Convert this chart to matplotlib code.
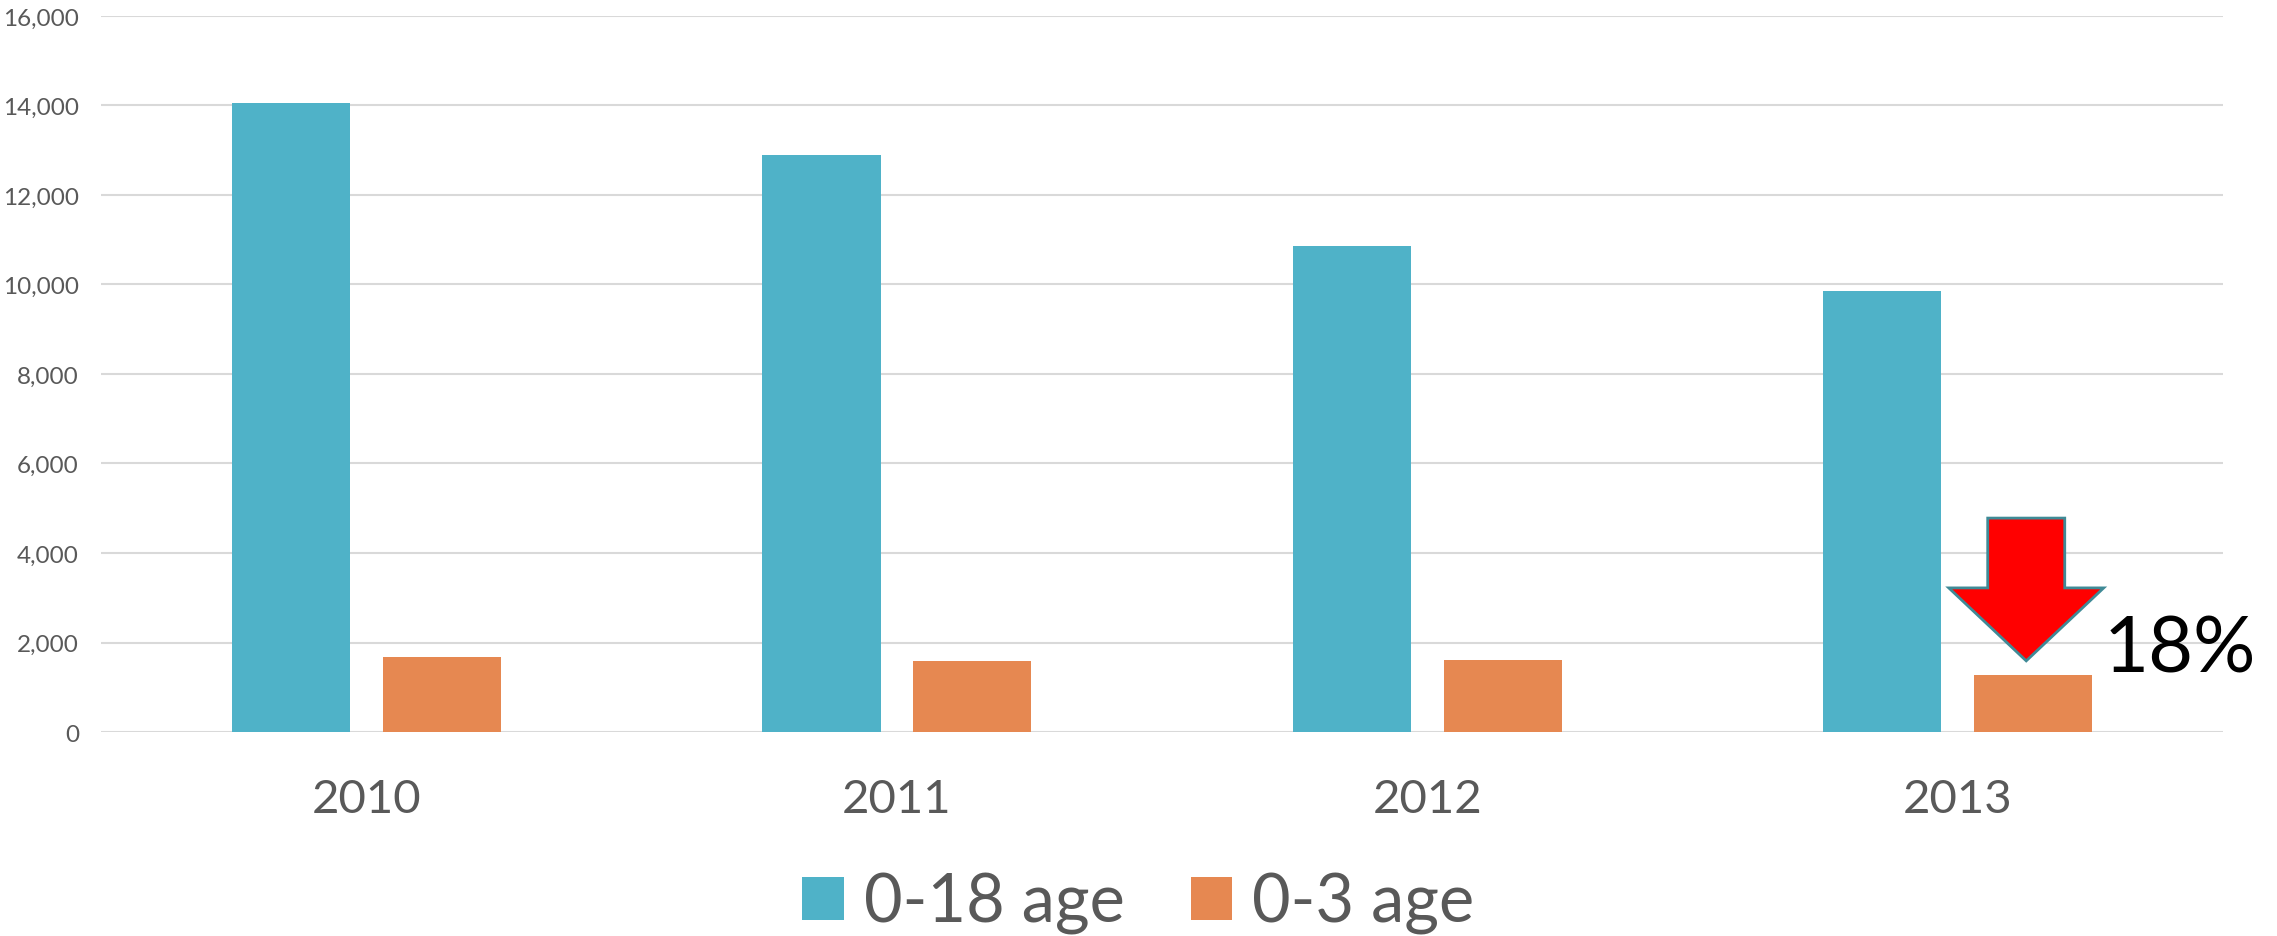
import matplotlib
matplotlib.use("Agg")
import matplotlib.pyplot as plt
from matplotlib.patches import Polygon, Patch
import numpy as np

plt.rcParams['font.family'] = ['Lato', 'DejaVu Sans']

years = ["2010", "2011", "2012", "2013"]
age_0_18 = [14050, 12900, 10870, 9860]
age_0_3 = [1680, 1590, 1620, 1280]
series_labels = ["0-18 age", "0-3 age"]
yticks = [0, 2000, 4000, 6000, 8000, 10000, 12000, 14000, 16000]
drop_label = "18%"

blue = "#4FB2C8"
orange = "#E68851"
grey = "#595959"

fig = plt.figure(figsize=(22.77, 9.37), dpi=100)
ax = fig.add_axes([0.0444, 0.2177, 0.9319, 0.7642])

x = np.arange(len(years))
w = 0.2225
off = 0.142
ax.bar(x - off, age_0_18, width=w, color=blue, zorder=3, label=series_labels[0])
ax.bar(x + off, age_0_3, width=w, color=orange, zorder=3, label=series_labels[1])

ax.set_xlim(-0.5, len(years) - 0.5)
ax.set_ylim(0, 16000)
ax.set_yticks(yticks)
ax.set_yticklabels([f"{v:,}" for v in yticks], fontsize=17.5, color=grey)
ax.set_xticks(x)
ax.set_xticklabels(years, fontsize=34, color=grey)
ax.tick_params(axis='both', length=0)
ax.tick_params(axis='y', pad=16)
ax.tick_params(axis='x', pad=33)
ax.grid(axis='y', color="#D9D9D9", linewidth=1.5, zorder=0)
for s in ax.spines.values():
    s.set_visible(False)

# Down arrow over last 0-3 bar
i = len(years) - 1
cx = x[i] + off - 0.013
base = age_0_3[i]
tip = base + 310
head_y = base + 1940
top = base + 3500
sw = 0.0726
hw = 0.146
pts = [(cx - sw, top), (cx + sw, top), (cx + sw, head_y), (cx + hw, head_y),
       (cx, tip), (cx - hw, head_y), (cx - sw, head_y)]
ax.add_patch(Polygon(pts, closed=True, facecolor="#FF0000", edgecolor="#3F8A96",
                     linewidth=2, zorder=5))
ax.text(cx + hw + 0.0, base + 560, drop_label, fontsize=56, color="black",
        va='center', ha='left', zorder=6)

handles = [Patch(facecolor=blue), Patch(facecolor=orange)]
fig.legend(handles, series_labels, loc='center', bbox_to_anchor=(0.5, 0.035),
           ncol=2, frameon=False, fontsize=48, labelcolor=grey,
           handlelength=0.62, handleheight=0.62, handletextpad=0.3, columnspacing=1.0)

fig.savefig("out.png", dpi=100)
